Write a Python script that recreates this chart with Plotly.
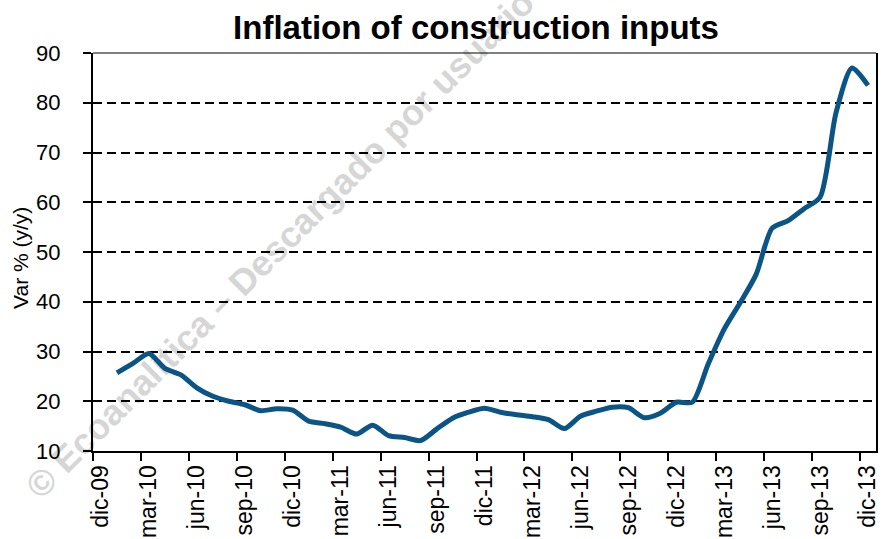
import plotly.graph_objects as go

# ---- data ----
axis_labels = ["dic-09", "mar-10", "jun-10", "sep-10", "dic-10", "mar-11", "jun-11",
               "sep-11", "dic-11", "mar-12", "jun-12", "sep-12", "dic-12", "mar-13",
               "jun-13", "sep-13", "dic-13"]
months = ["ene-10", "feb-10", "mar-10", "abr-10", "may-10", "jun-10", "jul-10", "ago-10",
          "sep-10", "oct-10", "nov-10", "dic-10",
          "ene-11", "feb-11", "mar-11", "abr-11", "may-11", "jun-11", "jul-11", "ago-11",
          "sep-11", "oct-11", "nov-11", "dic-11",
          "ene-12", "feb-12", "mar-12", "abr-12", "may-12", "jun-12", "jul-12", "ago-12",
          "sep-12", "oct-12", "nov-12", "dic-12",
          "ene-13", "feb-13", "mar-13", "abr-13", "may-13", "jun-13", "jul-13", "ago-13",
          "sep-13", "oct-13", "nov-13", "dic-13"]
inflation = [25.7, 27.6, 29.6, 26.6, 25.3, 22.7, 21.0, 20.0, 19.3, 18.1, 18.5, 18.2,
             16.0, 15.5, 14.8, 13.4, 15.2, 13.1, 12.7, 12.1, 14.4, 16.6, 17.8, 18.6,
             17.8, 17.3, 16.9, 16.3, 14.5, 17.0, 18.0, 18.8, 18.7, 16.7, 17.6, 19.8,
             19.8, 27.5, 34.5, 39.8, 45.5, 54.8, 56.3, 58.7, 61.0, 78.0, 87.0, 83.5]

# month slots: dic-09 is slot 0; each monthly value sits in the middle of its slot
x_vals = [i + 1.5 for i in range(len(months))]
tick_pos = [3 * k for k in range(len(axis_labels))]
label_pos = [p + 0.5 for p in tick_pos]   # labels sit just right of their tick mark

FONT = "Arial, Liberation Sans, sans-serif"
LINE_COLOR = "#0b5486"
X_RANGE = [0, 49]

fig = go.Figure()
# invisible carrier trace for the label axis
fig.add_trace(go.Scatter(
    x=x_vals, y=inflation, xaxis="x2", mode="lines",
    line=dict(color="rgba(0,0,0,0)", width=0), opacity=0,
    hoverinfo="skip", showlegend=False,
))
fig.add_trace(go.Scatter(
    x=x_vals, y=inflation, text=months, mode="lines",
    line=dict(color=LINE_COLOR, width=5, shape="spline", smoothing=0.7),
    hovertemplate="%{text}: %{y:.1f}<extra></extra>",
    showlegend=False,
))

fig.update_layout(
    width=882, height=539,
    margin=dict(l=93, r=6, t=53, b=88, autoexpand=False),
    paper_bgcolor="white", plot_bgcolor="white",
    font=dict(family=FONT, color="black"),
    title=dict(text="<b>Inflation of construction inputs</b>",
               font=dict(size=33, family=FONT, color="black"),
               x=476 / 882, xanchor="center", xref="container",
               y=1 - 27 / 539, yanchor="middle", yref="container"),
    xaxis=dict(range=X_RANGE, tickmode="array", tickvals=tick_pos,
               showticklabels=False,
               showgrid=False, zeroline=False, automargin=False,
               showline=True, linecolor="black", linewidth=2,
               ticks="outside", ticklen=8, tickwidth=2, tickcolor="black"),
    xaxis2=dict(range=X_RANGE, overlaying="x", side="bottom", anchor="y",
                tickmode="array", tickvals=label_pos, ticktext=axis_labels,
                tickangle=-90, tickfont=dict(size=23, family=FONT),
                showgrid=False, zeroline=False, automargin=False, showline=False,
                ticks="outside", ticklen=8, tickcolor="rgba(0,0,0,0)",
                ticklabelstandoff=-4),
    yaxis=dict(range=[10, 90], dtick=10, tick0=10,
               tickfont=dict(size=22, family=FONT),
               showgrid=True, gridcolor="black", gridwidth=2, griddash="9px,5px",
               zeroline=False, automargin=False,
               showline=True, linecolor="black", linewidth=2, mirror=True,
               ticks="outside", ticklen=8, tickwidth=2, tickcolor="black",
               ticklabelstandoff=18),
    shapes=[
        dict(type="line", xref="paper", yref="paper", x0=0, x1=1, y0=1, y1=1,
             line=dict(color="black", width=1), layer="above"),
        dict(type="rect", xref="paper", yref="paper",
             x0=0.236 - 0.01, x1=0.236 + 0.01, y0=0.525 - 0.01, y1=0.525 + 0.01,
             line=dict(width=0), fillcolor="rgba(0,0,0,0)", layer="below",
             label=dict(text="<b>© Ecoanalítica – Descargado por usuario</b>",
                        textangle=-45, textposition="middle center",
                        font=dict(size=36, family=FONT, color="#d6d6d6"))),
    ],
    annotations=[
        dict(text="Var % (y/y)", textangle=-90, showarrow=False,
             xref="paper", yref="paper", x=(20 - 93) / 783, y=(451 - 258) / 398,
             xanchor="center", yanchor="middle",
             font=dict(size=21, family=FONT, color="black")),
    ],
)

fig.write_html("out.html", config={"displayModeBar": False},
               post_script="document.body.style.margin='0';document.body.style.padding='0';")
